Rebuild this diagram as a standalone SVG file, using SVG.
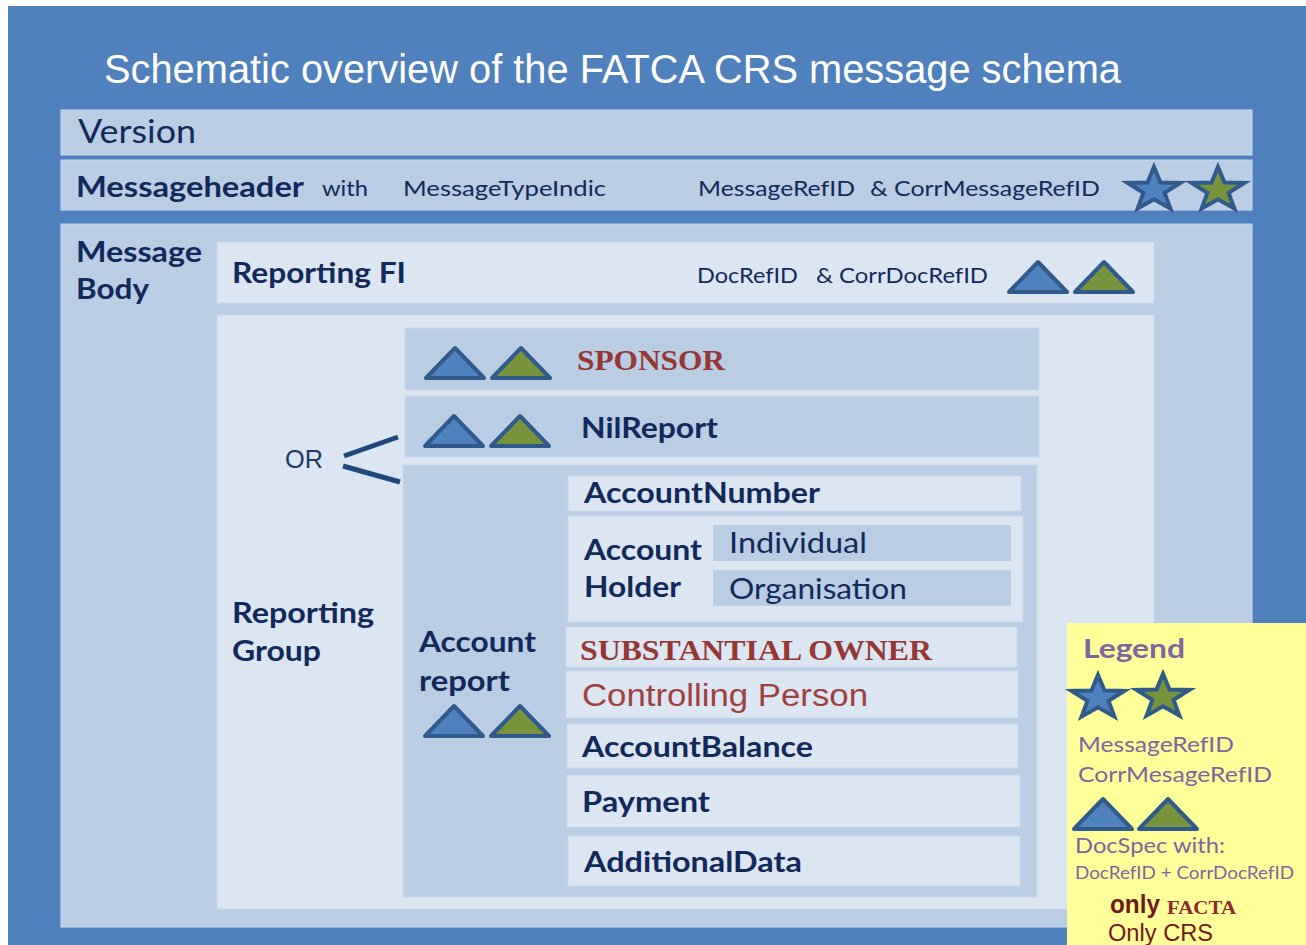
<svg xmlns="http://www.w3.org/2000/svg" xmlns:xlink="http://www.w3.org/1999/xlink" width="1306" height="945" viewBox="0 0 1306 945">
<style>
.bg{fill:#4F81BD}
.mid{fill:#B9CDE5}
.lt{fill:#DCE6F2}
.lb{fill:#DCE6F2;stroke:#C9D8EB;stroke-width:1}
.mb{fill:#B9CDE5;stroke:#C9D8EB;stroke-width:1}
.t{font-family:Lato,"Open Sans",sans-serif;fill:#11295B}
.b{font-weight:bold}
.red{font-family:"Liberation Serif","DejaVu Serif",serif;font-weight:bold;fill:#953735}
.ar{font-family:"Liberation Sans",Arial,sans-serif}
.pu{font-family:Lato,"Open Sans",sans-serif;fill:#8064A2}
.sb{fill:#4F81BD;stroke:#2F5A8C;stroke-width:4;stroke-linejoin:miter}
.sg{fill:#77933C;stroke:#2F5A8C;stroke-width:4;stroke-linejoin:miter}
.tb{fill:#4F81BD;stroke:#2F5A8C;stroke-width:4;stroke-linejoin:round}
.tg{fill:#77933C;stroke:#2F5A8C;stroke-width:4;stroke-linejoin:round}
.ln{stroke:#1F497D;stroke-width:5;stroke-linecap:butt;fill:none}
</style>
<defs>
<polygon id="star" points="0,-23 6.5,-7.5 26.5,-7.1 10.6,2.9 16.4,18.6 0,9.2 -16.4,18.6 -10.6,2.9 -26.5,-7.1 -6.5,-7.5"/>
<polygon id="tri" points="-29,15 0,-15 29,15"/>
</defs>

<rect x="0" y="0" width="1306" height="945" fill="#FFFFFF"/>
<rect class="bg" x="8" y="6" width="1298" height="939"/>

<g id="title">
<text x="104" y="83" font-family="'Liberation Sans',Arial,sans-serif" font-size="41" fill="#FFFFFF" textLength="1017" lengthAdjust="spacingAndGlyphs">Schematic overview of the FATCA CRS message schema</text>
</g>

<g id="version">
<rect class="mb" x="61" y="110" width="1191" height="45"/>
<text class="t" x="78" y="143" font-size="33" textLength="118" lengthAdjust="spacingAndGlyphs">Version</text>
</g>

<g id="messageheader">
<rect class="mb" x="61" y="160" width="1191" height="50"/>
<text class="t b" x="76" y="197" font-size="29" textLength="228" lengthAdjust="spacingAndGlyphs">Messageheader</text>
<text class="t" x="322" y="196" font-size="22" textLength="46" lengthAdjust="spacingAndGlyphs">with</text>
<text class="t" x="403" y="196" font-size="22" textLength="203" lengthAdjust="spacingAndGlyphs">MessageTypeIndic</text>
<text class="t" x="698" y="196" font-size="22" textLength="157" lengthAdjust="spacingAndGlyphs">MessageRefID</text>
<text class="t" x="870" y="196" font-size="22" textLength="230" lengthAdjust="spacingAndGlyphs">&amp; CorrMessageRefID</text>
<use xlink:href="#star" class="sb" x="1154" y="190"/>
<use xlink:href="#star" class="sg" x="1218" y="190"/>
</g>

<g id="messagebody">
<rect class="mb" x="61" y="224" width="1191" height="703"/>
<text class="t b" x="76" y="262" font-size="29" textLength="126" lengthAdjust="spacingAndGlyphs">Message</text>
<text class="t b" x="76" y="299" font-size="29" textLength="73" lengthAdjust="spacingAndGlyphs">Body</text>
</g>

<g id="reportingfi">
<rect class="lb" x="217" y="242" width="937" height="61"/>
<text class="t b" x="232" y="283" font-size="28" textLength="174" lengthAdjust="spacingAndGlyphs">Reporting FI</text>
<text class="t" x="697" y="283" font-size="22" textLength="101" lengthAdjust="spacingAndGlyphs">DocRefID</text>
<text class="t" x="816" y="283" font-size="22" textLength="172" lengthAdjust="spacingAndGlyphs">&amp; CorrDocRefID</text>
<use xlink:href="#tri" class="tb" x="1038" y="277"/>
<use xlink:href="#tri" class="tg" x="1104" y="277"/>
</g>

<g id="reportinggroup">
<rect class="lb" x="217" y="315" width="937" height="594"/>
<text class="t b" x="232" y="623" font-size="28" textLength="142" lengthAdjust="spacingAndGlyphs">Reporting</text>
<text class="t b" x="232" y="661" font-size="28" textLength="89" lengthAdjust="spacingAndGlyphs">Group</text>
<text class="ar" x="285" y="468" font-size="26" fill="#1F3A60" textLength="38" lengthAdjust="spacingAndGlyphs">OR</text>
</g>

<g id="sponsor">
<rect class="mb" x="405" y="328" width="634" height="62"/>
<use xlink:href="#tri" class="tb" x="455" y="363"/>
<use xlink:href="#tri" class="tg" x="521" y="363"/>
<text class="red" x="577" y="370" font-size="30" textLength="148" lengthAdjust="spacingAndGlyphs">SPONSOR</text>
</g>

<g id="nilreport">
<rect class="mb" x="405" y="396" width="634" height="61"/>
<use xlink:href="#tri" class="tb" x="454" y="431"/>
<use xlink:href="#tri" class="tg" x="520" y="431"/>
<text class="t b" x="581" y="438" font-size="28" textLength="137" lengthAdjust="spacingAndGlyphs">NilReport</text>
</g>

<g id="accountreport">
<rect class="mb" x="403" y="465" width="634" height="432"/>
<text class="t b" x="419" y="652" font-size="28" textLength="117" lengthAdjust="spacingAndGlyphs">Account</text>
<text class="t b" x="419" y="691" font-size="28" textLength="91" lengthAdjust="spacingAndGlyphs">report</text>
<use xlink:href="#tri" class="tb" x="454" y="721"/>
<use xlink:href="#tri" class="tg" x="520" y="721"/>
</g>

<g id="accountnumber">
<rect class="lb" x="568" y="476" width="453" height="35"/>
<text class="t b" x="584" y="503" font-size="28" textLength="236" lengthAdjust="spacingAndGlyphs">AccountNumber</text>
</g>

<g id="accountholder">
<rect class="lb" x="568" y="516" width="455" height="106"/>
<text class="t b" x="584" y="560" font-size="28" textLength="118" lengthAdjust="spacingAndGlyphs">Account</text>
<text class="t b" x="584" y="597" font-size="28" textLength="97" lengthAdjust="spacingAndGlyphs">Holder</text>
</g>

<g id="individual">
<rect class="mid" x="713" y="525" width="298" height="36"/>
<text class="t" x="729" y="553" font-size="29" textLength="138" lengthAdjust="spacingAndGlyphs">Individual</text>
</g>

<g id="organisation">
<rect class="mid" x="713" y="570" width="298" height="36"/>
<text class="t" x="729" y="599" font-size="29" textLength="178" lengthAdjust="spacingAndGlyphs">Organisation</text>
</g>

<g id="substantialowner">
<rect class="lb" x="566" y="627" width="451" height="40"/>
<text class="red" x="580" y="660" font-size="30" textLength="352" lengthAdjust="spacingAndGlyphs">SUBSTANTIAL OWNER</text>
</g>

<g id="controllingperson">
<rect class="lb" x="566" y="671" width="452" height="47"/>
<text class="ar" x="582" y="706" font-size="31" fill="#A0403E" textLength="286" lengthAdjust="spacingAndGlyphs">Controlling Person</text>
</g>

<g id="accountbalance">
<rect class="lb" x="567" y="724" width="451" height="44"/>
<text class="t b" x="582" y="757" font-size="28" textLength="231" lengthAdjust="spacingAndGlyphs">AccountBalance</text>
</g>

<g id="payment">
<rect class="lb" x="567" y="775" width="453" height="52"/>
<text class="t b" x="582" y="812" font-size="28" textLength="128" lengthAdjust="spacingAndGlyphs">Payment</text>
</g>

<g id="additionaldata">
<rect class="lb" x="568" y="836" width="452" height="50"/>
<text class="t b" x="584" y="872" font-size="28" textLength="218" lengthAdjust="spacingAndGlyphs">AdditionalData</text>
</g>

<g id="connectors">
<line class="ln" x1="344" y1="456" x2="398" y2="437"/>
<line class="ln" x1="343" y1="466" x2="400" y2="482"/>
</g>

<g id="legend">
<rect x="1067" y="623" width="239" height="322" fill="#FFFF99"/>
<text class="pu b" x="1083" y="658" font-size="26" textLength="102" lengthAdjust="spacingAndGlyphs">Legend</text>
<use xlink:href="#star" class="sb" x="1098" y="698"/>
<use xlink:href="#star" class="sg" x="1163" y="697"/>
<text class="pu" x="1078" y="752" font-size="22" textLength="156" lengthAdjust="spacingAndGlyphs">MessageRefID</text>
<text class="pu" x="1078" y="782" font-size="22" textLength="194" lengthAdjust="spacingAndGlyphs">CorrMesageRefID</text>
<use xlink:href="#tri" class="tb" x="1103" y="814"/>
<use xlink:href="#tri" class="tg" x="1168" y="814"/>
<text class="pu" x="1075" y="853" font-size="22" textLength="150" lengthAdjust="spacingAndGlyphs">DocSpec with:</text>
<text class="pu" x="1075" y="879" font-size="17" textLength="219" lengthAdjust="spacingAndGlyphs">DocRefID + CorrDocRefID</text>
<text class="ar" x="1110" y="913" font-size="25" font-weight="bold" fill="#6E1A1A" textLength="50" lengthAdjust="spacingAndGlyphs">only</text>
<text class="red" x="1167" y="914" font-size="19" textLength="69" lengthAdjust="spacingAndGlyphs" style="fill:#8B2A2A">FACTA</text>
<text class="ar" x="1108" y="941" font-size="23" fill="#6E1A1A" textLength="105" lengthAdjust="spacingAndGlyphs">Only CRS</text>
</g>
</svg>
